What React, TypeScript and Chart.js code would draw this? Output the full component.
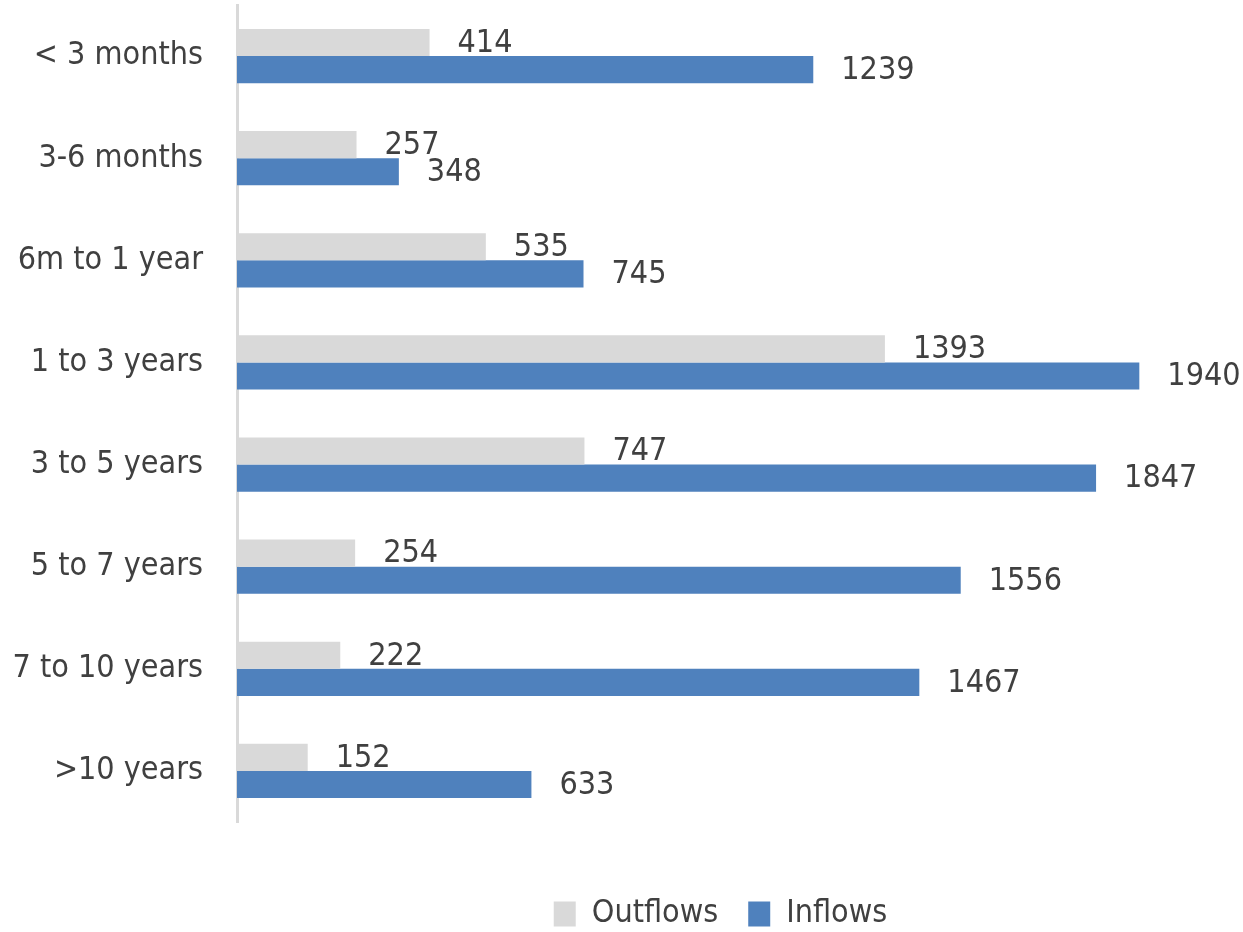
import React, { useEffect, useRef } from "react";
import { Chart, registerables } from "chart.js";

Chart.register(...registerables);

const categories = ["< 3 months", "3-6 months", "6m to 1 year", "1 to 3 years", "3 to 5 years", "5 to 7 years", "7 to 10 years", ">10 years"];
const outflows = [414, 257, 535, 1393, 747, 254, 222, 152];
const inflows = [1239, 348, 745, 1940, 1847, 1556, 1467, 633];
const seriesNames = ["Outflows", "Inflows"];
const seriesColors = ["#d9d9d9", "#4f81bd"];

const FONT = '"DejaVu Sans Condensed", "Liberation Sans", sans-serif';
const TEXT = "#404040";
const FS = 32;

const labelPlugin = {
  id: "valueLabels",
  afterLayout(chart: any) {
    if (chart.legend) {
      chart.legend.left += 204;
    }
  },
  afterDatasetsDraw(chart: any) {
    const ctx = chart.ctx;
    ctx.save();
    ctx.font = `${FS}px ${FONT}`;
    ctx.fillStyle = TEXT;
    ctx.textAlign = "left";
    ctx.textBaseline = "middle";
    chart.data.datasets.forEach((ds: any, di: number) => {
      const meta = chart.getDatasetMeta(di);
      meta.data.forEach((el: any, i: number) => {
        ctx.fillText(String(ds.data[i]), el.x + 28, el.y + 1);
      });
    });
    ctx.restore();
  },
};

export default function App() {
  const ref = useRef<HTMLCanvasElement>(null);
  useEffect(() => {
    const chart: any = new Chart(ref.current!, {
      type: "bar",
      data: {
        labels: categories,
        datasets: [
          { label: seriesNames[0], data: outflows, backgroundColor: seriesColors[0], categoryPercentage: 0.53, barPercentage: 1 },
          { label: seriesNames[1], data: inflows, backgroundColor: seriesColors[1], categoryPercentage: 0.53, barPercentage: 1 },
        ],
      },
      options: {
        indexAxis: "y",
        animation: false,
        responsive: false,
        maintainAspectRatio: false,
        layout: { padding: { top: 5, right: 6, bottom: -8, left: 0 } },
        scales: {
          x: {
            min: 0,
            max: 2150,
            display: true,
            grid: { display: false },
            border: { display: false },
            ticks: { display: false },
            afterFit: (s: any) => { s.height = 46; },
          },
          y: {
            grid: { display: false },
            border: { display: true, color: "#d9d9d9", width: 3 },
            ticks: { color: TEXT, font: { family: FONT, size: FS }, padding: 26 },
            afterFit: (s: any) => { s.width = 237; s.paddingTop = 0; s.paddingBottom = 0; },
          },
        },
        plugins: {
          legend: {
            position: "bottom",
            labels: { color: TEXT, font: { family: FONT, size: FS }, boxWidth: 22, boxHeight: 25, padding: 30 },
          },
          tooltip: { enabled: false },
        },
      },
      plugins: [labelPlugin],
    });
    return () => chart.destroy();
  }, []);
  return (
    <div style={{ position: "fixed", left: 0, top: 0, width: 1243, height: 932, background: "#fff" }}>
      <canvas ref={ref} width={1243} height={932} style={{ width: 1243, height: 932 }} />
    </div>
  );
}
